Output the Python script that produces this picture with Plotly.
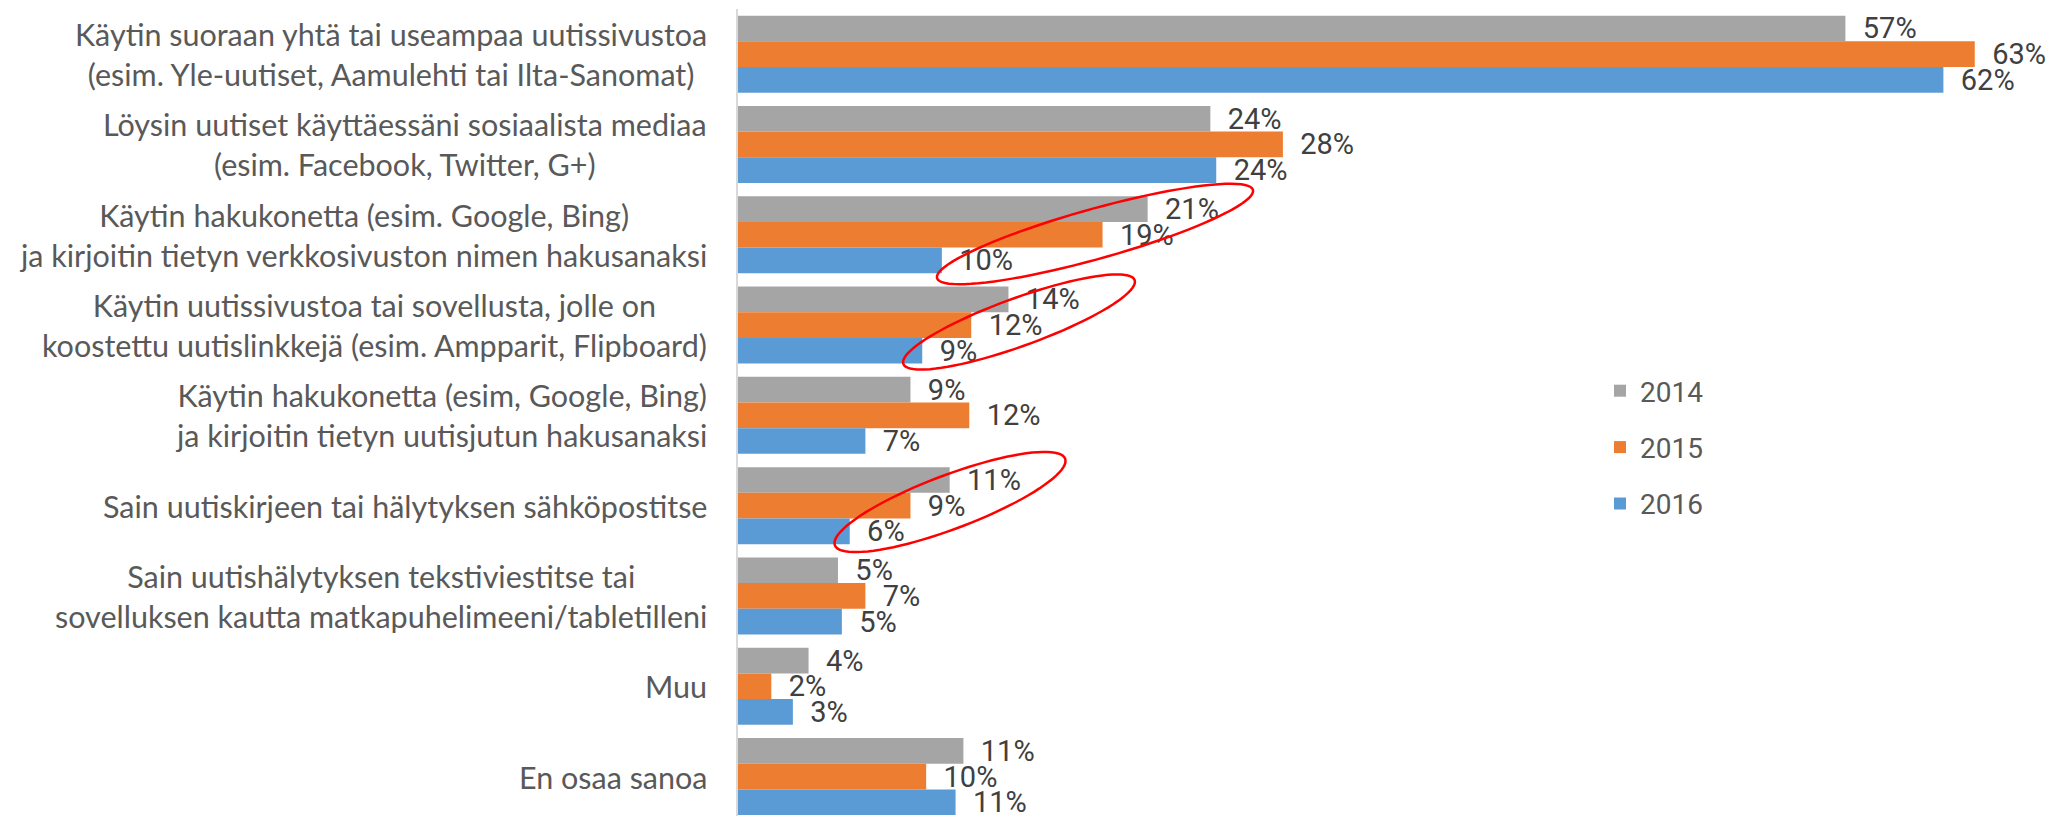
import math
import plotly.graph_objects as go

# ---------------- data ----------------
categories = [
    "Käytin suoraan yhtä tai useampaa uutissivustoa<br>(esim. Yle-uutiset, Aamulehti tai Ilta-Sanomat)",
    "Löysin uutiset käyttäessäni sosiaalista mediaa<br>(esim. Facebook, Twitter, G+)",
    "Käytin hakukonetta (esim. Google, Bing)<br>ja kirjoitin tietyn verkkosivuston nimen hakusanaksi",
    "Käytin uutissivustoa tai sovellusta, jolle on<br>koostettu uutislinkkejä (esim. Ampparit, Flipboard)",
    "Käytin hakukonetta (esim, Google, Bing)<br>ja kirjoitin tietyn uutisjutun hakusanaksi",
    "Sain uutiskirjeen tai hälytyksen sähköpostitse",
    "Sain uutishälytyksen tekstiviestitse tai<br>sovelluksen kautta matkapuhelimeeni/tabletilleni",
    "Muu",
    "En osaa sanoa",
]
years = ["2014", "2015", "2016"]

# bar lengths (percent)
values_2014 = [56.5, 24.1, 20.9, 13.8, 8.8, 10.8, 5.1, 3.6, 11.5]
values_2015 = [63.1, 27.8, 18.6, 11.9, 11.8, 8.8, 6.5, 1.7, 9.6]
values_2016 = [61.5, 24.4, 10.4, 9.4, 6.5, 5.7, 5.3, 2.8, 11.1]

# printed data labels (percent)
labels_2014 = [57, 24, 21, 14, 9, 11, 5, 4, 11]
labels_2015 = [63, 28, 19, 12, 12, 9, 7, 2, 10]
labels_2016 = [62, 24, 10, 9, 7, 6, 5, 3, 11]

colors = ["#A5A5A5", "#ED7D31", "#5B9BD5"]

# ---------------- figure ----------------
W, H = 2052, 816
ML, MT, MB, MR = 738, 9, 0, 0
PW, PH = W - ML - MR, H - MT - MB
PX_PER_PCT = 19.6

fig = go.Figure()
series = [(values_2014, labels_2014), (values_2015, labels_2015), (values_2016, labels_2016)]
for i, (vals, labs) in enumerate(series):
    fig.add_trace(go.Bar(
        y=categories, x=vals, orientation="h", name=years[i],
        marker=dict(color=colors[i], line=dict(width=0)),
        text=[str(v) for v in labs],
        texttemplate="\u00a0\u00a0%{text}%",
        textposition="outside", constraintext="none", cliponaxis=False,
        textfont=dict(family="Roboto, Arial, sans-serif", size=29, color="#404040"),
        legendgroup=years[i], hoverinfo="skip",
    ))

# category labels (centered lines, right-aligned block)
annotations = []
for c in categories:
    annotations.append(dict(
        x=0, xref="x", y=c, yref="y", xanchor="right", yanchor="middle",
        xshift=-29, text=c, showarrow=False, align="center",
        font=dict(family="Lato, Roboto, sans-serif", size=30.5, color="#595959"),
    ))


def to_paper(px, py):
    return (px - ML) / PW, (H - MB - py) / PH


def ellipse_path(cx, cy, a, b, deg, n=90):
    th = math.radians(deg)
    pts = []
    for k in range(n + 1):
        t = 2 * math.pi * k / n
        px = cx + a * math.cos(t) * math.cos(th) - b * math.sin(t) * math.sin(th)
        py = cy - (a * math.cos(t) * math.sin(th) + b * math.sin(t) * math.cos(th))
        pts.append(to_paper(px, py))
    return "M " + " L ".join(f"{x:.5f},{y:.5f}" for x, y in pts) + " Z"


# red hand-drawn highlight ellipses (pixel geometry of the picture)
ellipses = [
    (1095, 234, 164, 25, 15.6),
    (1019, 322, 123, 24, 19.9),
    (950, 502, 123, 27, 20.6),
]
shapes = [
    dict(type="path", xref="paper", yref="paper", path=ellipse_path(*e),
         line=dict(color="#FF0000", width=2.5), fillcolor="rgba(0,0,0,0)")
    for e in ellipses
]

fig.update_layout(
    width=W, height=H,
    margin=dict(l=ML, r=MR, t=MT, b=MB, pad=0),
    paper_bgcolor="white", plot_bgcolor="white",
    barmode="group", bargap=0.147, bargroupgap=0,
    xaxis=dict(range=[0, PW / PX_PER_PCT], visible=False, fixedrange=True),
    yaxis=dict(type="category", range=[-0.5 + PH / 90.3, -0.5],
               showticklabels=False, ticks="", showgrid=False, zeroline=False,
               showline=True, linecolor="#D9D9D9", linewidth=2, fixedrange=True),
    showlegend=True,
    legend=dict(x=(1600 - ML) / PW, xanchor="left", y=(H - 366) / PH, yanchor="top",
                traceorder="grouped", tracegroupgap=17,
                font=dict(family="Roboto, Arial, sans-serif", size=28, color="#595959"),
                bgcolor="rgba(0,0,0,0)"),
    annotations=annotations,
    shapes=shapes,
    font=dict(family="Roboto, Arial, sans-serif"),
)

fig.write_html("out.html",
               config={"displayModeBar": False},
               post_script="document.body.style.margin='0';document.body.style.padding='0';")
